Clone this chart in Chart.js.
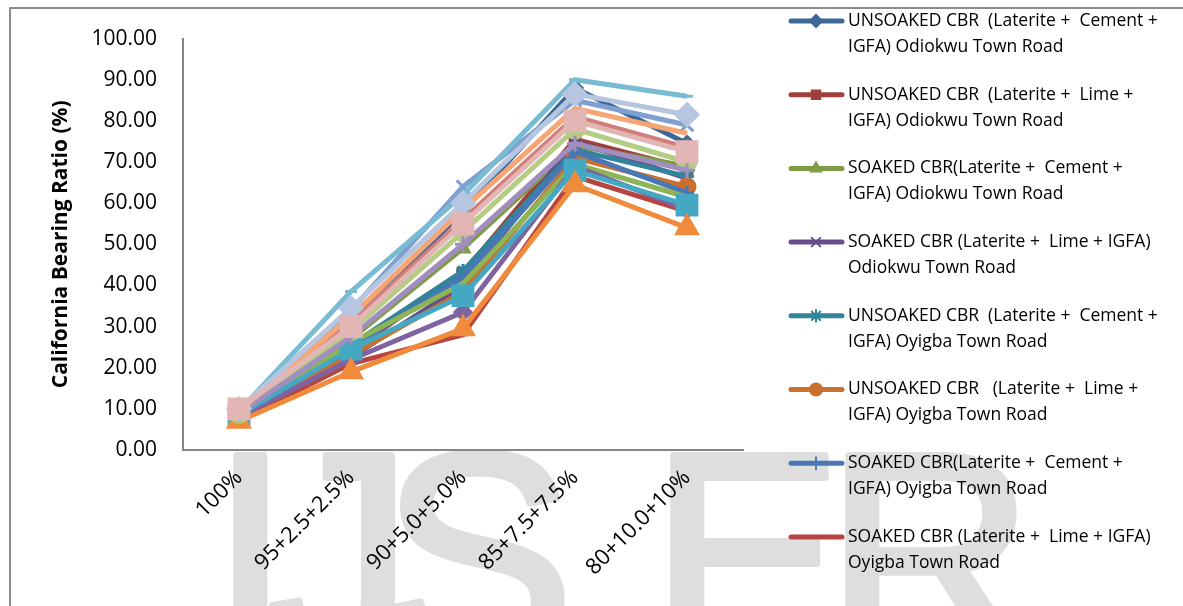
<!DOCTYPE html>
<html>
<head>
<meta charset="utf-8">
<script src="https://cdn.jsdelivr.net/npm/chart.js@4"></script>
<style>
  html, body { margin: 0; padding: 0; background: #fff; }
  canvas { display: block; }
</style>
</head>
<body>
<canvas id="cbr_plot" width="1183" height="606"></canvas>
<script>
// mix proportions (laterite + cement/lime + IGFA)
var mixes = ["100%", "95+2.5+2.5%", "90+5.0+5.0%", "85+7.5+7.5%", "80+10.0+10%"];

// legend names, split the way the legend wraps them
var seriesNames = [
    ["UNSOAKED CBR  (Laterite +  Cement +", "IGFA) Odiokwu Town Road"],
    ["UNSOAKED CBR  (Laterite +  Lime +", "IGFA) Odiokwu Town Road"],
    ["SOAKED CBR(Laterite +  Cement +", "IGFA) Odiokwu Town Road"],
    ["SOAKED CBR (Laterite +  Lime + IGFA)", "Odiokwu Town Road"],
    ["UNSOAKED CBR  (Laterite +  Cement +", "IGFA) Oyigba Town Road"],
    ["UNSOAKED CBR   (Laterite +  Lime +", "IGFA) Oyigba Town Road"],
    ["SOAKED CBR(Laterite +  Cement +", "IGFA) Oyigba Town Road"],
    ["SOAKED CBR (Laterite +  Lime + IGFA)", "Oyigba Town Road"],
    ["Series 9"], ["Series 10"], ["Series 11"], ["Series 12"],
    ["Series 13"], ["Series 14"], ["Series 15"], ["Series 16"],
    ["Series 17"], ["Series 18"], ["Series 19"], ["Series 20"]
];

// CBR (%) per series, one value per mix
var s1  = [9.0, 30.5, 58.0, 88.0, 74.5];
var s2  = [8.2, 24.0, 43.0, 75.5, 68.5];
var s3  = [8.5, 27.0, 49.0, 74.0, 69.0];
var s4  = [7.8, 22.5, 40.0, 75.0, 66.0];
var s5  = [7.5, 25.5, 43.5, 73.0, 66.5];
var s6  = [8.0, 23.0, 38.5, 71.0, 64.0];
var s7  = [8.0, 25.0, 42.0, 72.5, 62.5];
var s8  = [7.2, 21.0, 28.0, 66.5, 58.0];
var s9  = [8.3, 26.0, 40.5, 69.5, 61.5];
var s10 = [8.0, 22.0, 33.5, 69.0, 58.5];
var s11 = [8.5, 24.5, 37.5, 68.0, 59.5];
var s12 = [7.0, 19.0, 29.5, 64.5, 54.0];
var s13 = [9.0, 34.0, 64.0, 85.0, 79.0];
var s14 = [9.2, 31.0, 56.0, 81.0, 73.5];
var s15 = [9.0, 29.0, 53.0, 78.0, 70.0];
var s16 = [8.8, 27.5, 50.0, 74.5, 68.0];
var s17 = [9.5, 38.5, 62.0, 90.0, 86.0];
var s18 = [9.5, 32.5, 58.5, 83.0, 77.0];
var s19 = [10.0, 34.5, 60.0, 86.5, 81.5];
var s20 = [10.0, 30.0, 55.0, 80.0, 72.5];
var seriesValues = [s1, s2, s3, s4, s5, s6, s7, s8, s9, s10,
                    s11, s12, s13, s14, s15, s16, s17, s18, s19, s20];

// y axis ticks
var yMin = 0, yMax = 100, yStep = 10;

var colors = ["#3c6898", "#a0403e", "#7f9c45", "#674e8b", "#32849a", "#c9702f", "#4777b5", "#b64542",
              "#8db455", "#7e63a0", "#45a8c3", "#f08b3c", "#7fa0d0", "#d27e7b", "#b5cc85", "#a08ebe",
              "#78bbd2", "#f6a675", "#b6c5e0", "#e3b6b6"];
var markers = ["rectRot", "rect", "triangle", "crossRot", "star", "circle", "cross", "line",
               false, "rectRot", "rect", "triangle", "crossRot", "star", "circle", "cross",
               "line", false, "rectRot", "rect"];
var markerSize = [7, 7, 7, 7, 7, 8, 7, 6, 0, 8, 14, 12, 9, 8, 9, 8, 6, 0, 11, 14];

var datasets = seriesValues.map(function (vals, i) {
    return {
        label: seriesNames[i].join(" "),
        data: vals,
        borderColor: colors[i],
        backgroundColor: colors[i],
        borderWidth: 5,
        pointStyle: markers[i],
        pointRadius: markers[i] ? markerSize[i] : 0,
        pointBorderWidth: 3,
        pointBorderColor: colors[i],
        pointBackgroundColor: colors[i],
        tension: 0,
        fill: false,
        order: seriesValues.length - i
    };
});

var bodyFont = "'Open Sans', Lato, sans-serif";

var decor = {
    id: "decor",
    beforeDraw: function (chart) {
        var ctx = chart.ctx;
        ctx.save();
        ctx.fillStyle = "#ffffff";
        ctx.fillRect(0, 0, chart.width, chart.height);
        // IJSER watermark
        ctx.fillStyle = "#dedede";
        ctx.strokeStyle = "#dedede";
        ctx.lineWidth = 7;
        ctx.lineJoin = "round";
        ctx.font = "290px 'Liberation Sans', Arial, sans-serif";
        ctx.textBaseline = "alphabetic";
        [["I", 210], ["J", 268], ["S", 381], ["E", 650], ["R", 825]].forEach(function (m) {
            ctx.fillText(m[0], m[1], 655);
            ctx.strokeText(m[0], m[1], 655);
        });
        // outer chart frame
        ctx.strokeStyle = "#8c8c8c";
        ctx.lineWidth = 2;
        ctx.beginPath();
        ctx.moveTo(10, chart.height);
        ctx.lineTo(10, 8);
        ctx.lineTo(chart.width, 8);
        ctx.stroke();
        ctx.restore();
    },
    afterDraw: function (chart) {
        var ctx = chart.ctx;
        ctx.save();
        ctx.font = "17.5px " + bodyFont;
        ctx.textBaseline = "middle";
        seriesNames.forEach(function (lines, i) {
            var y = 21 + 73.7 * i;
            if (y + 8 > chart.height) return;
            ctx.strokeStyle = colors[i];
            ctx.lineWidth = 5;
            ctx.lineCap = "round";
            ctx.beginPath();
            ctx.moveTo(791, y);
            ctx.lineTo(842, y);
            ctx.stroke();
            if (markers[i] && Chart.helpers && Chart.helpers.drawPoint) {
                ctx.fillStyle = colors[i];
                ctx.lineWidth = 2;
                Chart.helpers.drawPoint(ctx, { pointStyle: markers[i], radius: 6, rotation: 0, borderWidth: 2 }, 816, y);
            }
            ctx.fillStyle = "#000000";
            lines.forEach(function (t, k) {
                ctx.fillText(t, 848, y + 26 * k);
            });
        });
        ctx.restore();
    }
};

new Chart(document.getElementById("cbr_plot"), {
    type: "line",
    data: { labels: mixes, datasets: datasets },
    plugins: [decor],
    options: {
        responsive: false,
        animation: false,
        layout: { padding: { left: 0, top: 38, right: 440, bottom: 0 } },
        plugins: {
            legend: { display: false },
            tooltip: { enabled: false }
        },
        scales: {
            x: {
                offset: true,
                grid: { display: false, drawTicks: false },
                border: { display: true, color: "#868686", width: 2 },
                ticks: {
                    autoSkip: false,
                    minRotation: 45,
                    maxRotation: 45,
                    padding: 15,
                    color: "#000",
                    font: { family: bodyFont, size: 22 }
                },
                afterFit: function (s) { s.height = 156; }
            },
            y: {
                min: yMin,
                max: yMax,
                grid: { display: false, drawTicks: false },
                border: { display: true, color: "#868686", width: 2 },
                ticks: {
                    stepSize: yStep,
                    padding: 26,
                    color: "#000",
                    font: { family: bodyFont, size: 21 },
                    callback: function (v) { return v.toFixed(2); }
                },
                title: {
                    display: true,
                    text: "California Bearing Ratio (%)",
                    color: "#000",
                    padding: { top: 48, bottom: 0 },
                    font: { family: bodyFont, size: 21, weight: "bold" }
                },
                afterFit: function (s) { s.width = 183; }
            }
        }
    }
});
</script>
</body>
</html>
